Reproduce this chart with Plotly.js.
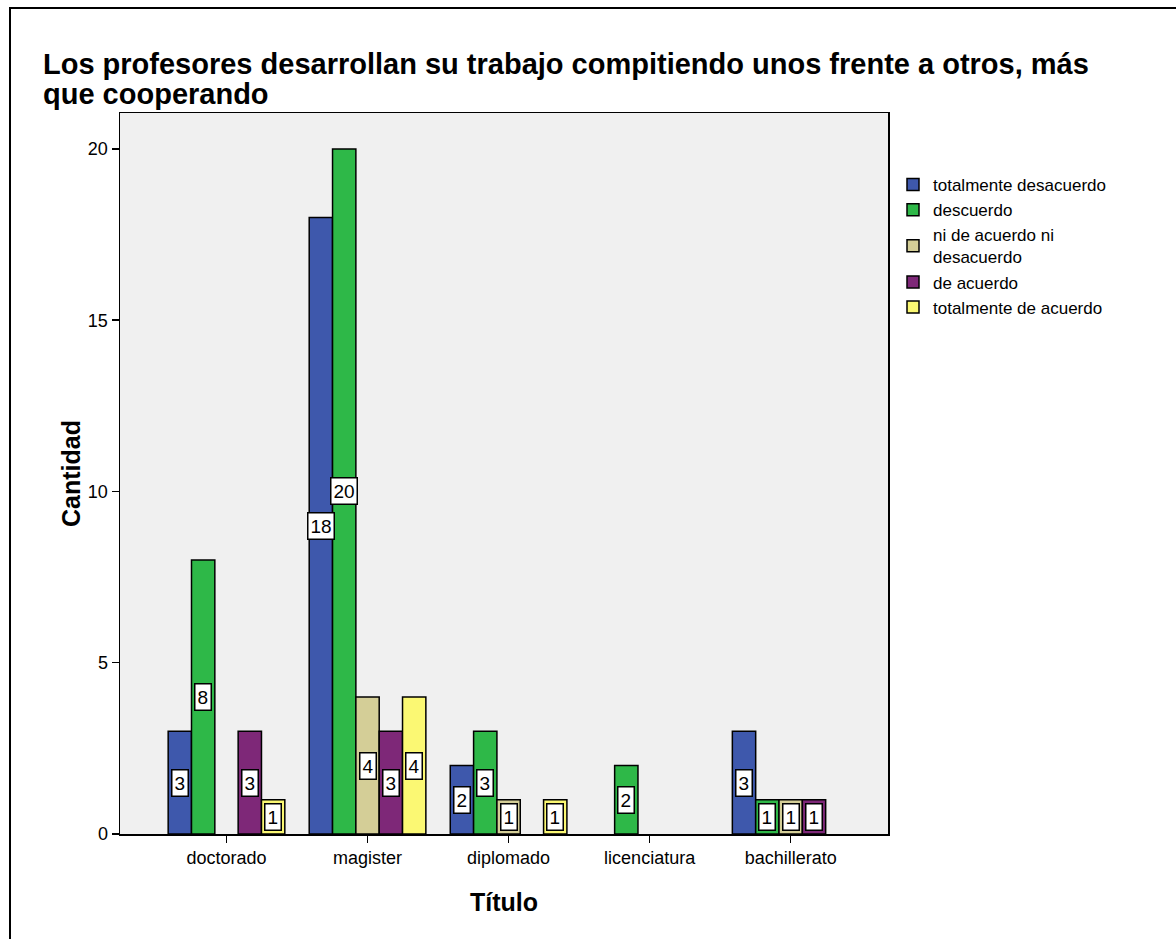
<!DOCTYPE html>
<html>
<head>
<meta charset="utf-8">
<script src="https://cdn.plot.ly/plotly-3.0.1.min.js"></script>
<style>
html,body{margin:0;padding:0;background:#fff;overflow:hidden;}
#chart{width:1176px;height:939px;}
#frame{position:absolute;left:9px;top:7px;width:1300px;height:1100px;border:2px solid #000;pointer-events:none;}
</style>
</head>
<body>
<div id="chart"></div>
<div id="frame"></div>
<script>
const categories = ["doctorado", "magister", "diplomado", "licenciatura", "bachillerato"];
const seriesNames = ["totalmente desacuerdo", "descuerdo", "ni de acuerdo ni<br>desacuerdo", "de acuerdo", "totalmente de acuerdo"];
const totalmenteDesacuerdo = [3, 18, 2, 0, 3];
const descuerdo = [8, 20, 3, 2, 1];
const niDeAcuerdoNiDesacuerdo = [0, 4, 1, 0, 1];
const deAcuerdo = [3, 3, 0, 0, 1];
const totalmenteDeAcuerdo = [1, 4, 1, 0, 0];
const yTicks = [0, 5, 10, 15, 20];
const titleLine1 = "Los profesores desarrollan su trabajo compitiendo unos frente a otros, más";
const titleLine2 = "que cooperando";

const seriesValues = [totalmenteDesacuerdo, descuerdo, niDeAcuerdoNiDesacuerdo, deAcuerdo, totalmenteDeAcuerdo];
const colors = ["#3e58ac", "#2eb848", "#d4ce97", "#7e2878", "#fbf873"];
const FONT = "Liberation Sans, Arial, sans-serif";

const bargap = 0.173;
const slot = (1 - bargap) / seriesValues.length;

const traces = seriesValues.map((vals, i) => ({
  type: "bar",
  name: seriesNames[i],
  x: categories,
  y: vals.map(v => v === 0 ? null : v),
  marker: {color: colors[i], line: {color: "#000", width: 1.5}},
  hoverinfo: "x+y+name"
}));

const annotations = [];
seriesValues.forEach((vals, i) => {
  vals.forEach((v, c) => {
    if (v > 0) {
      annotations.push({
        x: c + (i - (seriesValues.length - 1) / 2) * slot,
        y: v / 2,
        xref: "x", yref: "y",
        text: String(v),
        showarrow: false,
        font: {family: FONT, size: 19, color: "#000"},
        bgcolor: "#fff",
        bordercolor: "#000",
        borderwidth: 1.5,
        borderpad: 2
      });
    }
  });
});

// second title line placed to match the tight line spacing of the original
annotations.push({
  xref: "paper", yref: "paper",
  x: (42 - 120) / 768, xanchor: "left",
  y: (834 - 94) / 721, yanchor: "middle",
  text: "<b>" + titleLine2 + "</b>",
  showarrow: false,
  borderpad: 0,
  font: {family: FONT, size: 29, color: "#000"}
});

const layout = {
  width: 1176, height: 939,
  margin: {l: 120, r: 288, t: 113, b: 105},
  paper_bgcolor: "#fff",
  plot_bgcolor: "#f0f0f0",
  barmode: "group",
  bargap: bargap,
  bargroupgap: 0,
  font: {family: FONT, color: "#000"},
  title: {
    text: "<b>" + titleLine1 + "</b>",
    font: {family: FONT, size: 29, color: "#000"},
    xref: "container", yref: "container",
    x: 43 / 1176, xanchor: "left",
    y: 1 - 64 / 939, yanchor: "middle"
  },
  xaxis: {
    type: "category",
    range: [-0.755, 4.69],
    showline: true, linecolor: "#000", linewidth: 1.5, mirror: true,
    ticks: "outside", ticklen: 7, tickcolor: "#000", tickwidth: 1.5,
    tickfont: {family: FONT, size: 18, color: "#000"},
    showgrid: false, zeroline: false,
    title: {text: "<b>Título</b>", font: {family: FONT, size: 25, color: "#000"}, standoff: 26}
  },
  yaxis: {
    range: [0, 21.05],
    tickvals: yTicks,
    ticktext: yTicks.map(String),
    showline: true, linecolor: "#000", linewidth: 1.5, mirror: true,
    ticks: "outside", ticklen: 7, tickcolor: "#000", tickwidth: 1.5,
    tickfont: {family: FONT, size: 18, color: "#000"},
    showgrid: false, zeroline: false,
    title: {text: "<b>Cantidad</b>", font: {family: FONT, size: 25, color: "#000"}, standoff: 0}
  },
  legend: {
    x: (893 - 120) / 768, xanchor: "left",
    y: (834 - 167) / 721, yanchor: "top",
    font: {family: FONT, size: 17, color: "#000"},
    bgcolor: "rgba(0,0,0,0)",
    itemwidth: 30,
    tracegroupgap: 0
  },
  annotations: annotations,
  showlegend: true
};

Plotly.newPlot("chart", traces, layout, {displayModeBar: false, staticPlot: true});
</script>
</body>
</html>
